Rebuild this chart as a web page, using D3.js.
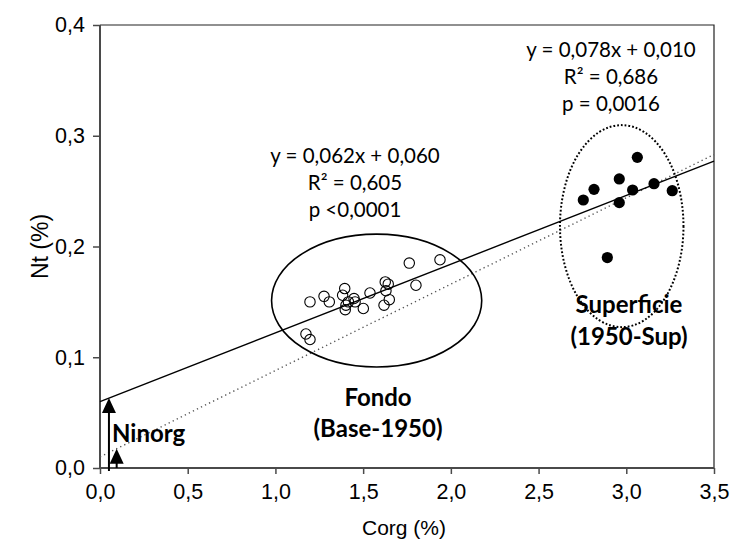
<!DOCTYPE html>
<html>
<head>
<meta charset="utf-8">
<script src="https://cdn.jsdelivr.net/npm/d3@7"></script>
<style>
  html, body { margin: 0; padding: 0; background: #fff; }
  svg { display: block; }
  .tick text { font-family: "Liberation Sans", Arial, sans-serif; font-size: 21.5px; fill: #000; }
  .eq { font-family: Lato, "Open Sans", sans-serif; font-size: 20.5px; fill: #000; }
  .grp { font-family: Lato, "Open Sans", sans-serif; font-size: 24px; font-weight: bold; fill: #000; }
  .title { font-family: "Liberation Sans", Arial, sans-serif; font-size: 21px; fill: #000; }
  .title.ytitle { font-size: 23px; }
</style>
</head>
<body>
<svg id="chart" width="733" height="551"></svg>
<script>
// Bottom layer samples (Fondo, Base-1950): Corg %, Nt %
const fondoCorg = [1.197, 1.277, 1.307, 1.395, 1.383, 1.402, 1.398, 1.448, 1.454, 1.416,
                   1.501, 1.539, 1.626, 1.643, 1.630, 1.649, 1.619, 1.763, 1.801, 1.938,
                   1.174, 1.197];
const fondoNt   = [0.150, 0.155, 0.150, 0.162, 0.156, 0.147, 0.143, 0.153, 0.150, 0.150,
                   0.144, 0.158, 0.168, 0.166, 0.160, 0.152, 0.147, 0.185, 0.165, 0.188,
                   0.121, 0.116];

// Surface layer samples (Superficie, 1950-Sup)
const supCorg = [3.063, 2.960, 2.816, 2.755, 3.036, 3.158, 3.262, 2.960, 2.892];
const supNt   = [0.2805, 0.261, 0.2516, 0.242, 0.251, 0.2567, 0.2504, 0.2396, 0.190];

// Regression fits (slope, intercept)
const fitFondo = [0.062, 0.060];
const fitSup   = [0.078, 0.010];

// Axis ticks
const xTicks = [0, 0.5, 1, 1.5, 2, 2.5, 3, 3.5];
const yTicks = [0, 0.1, 0.2, 0.3, 0.4];

// Group outlines: [centre Corg, centre Nt, radius Corg, radius Nt]
const fondoOutline = [1.577, 0.1512, 0.599, 0.060];
const supOutline   = [2.974, 0.2184, 0.352, 0.0912];

// Ninorg arrows drawn at these Corg positions
const arrowCorg = [0.051, 0.095];

const fmt = d => d.toFixed(1).replace('.', ',');

const svg = d3.select('#chart');
const x = d3.scaleLinear().domain([0, 3.5]).range([100, 714]);
const y = d3.scaleLinear().domain([0, 0.4]).range([468, 25]);

// frame (top and right)
svg.append('path')
  .attr('d', `M${x(0)},${y(0.4)}H${x(3.5)}V${y(0)}`)
  .attr('fill', 'none').attr('stroke', '#222').attr('stroke-width', 1.2);

// axes
const xAxis = svg.append('g').attr('transform', `translate(0,${y(0)})`)
  .call(d3.axisBottom(x).tickValues(xTicks).tickFormat(fmt).tickSize(6).tickPadding(10));
const yAxis = svg.append('g').attr('transform', `translate(${x(0)},0)`)
  .call(d3.axisLeft(y).tickValues(yTicks).tickFormat(fmt).tickSize(7).tickPadding(8));
[xAxis, yAxis].forEach(g => {
  g.select('.domain').attr('stroke', '#4a4a4a').attr('stroke-width', 2);
  g.selectAll('.tick line').attr('stroke', '#4a4a4a').attr('stroke-width', 1.5);
});
xAxis.select('.domain').attr('d', `M${x(0)},0H${x(3.5)}`);
yAxis.select('.domain').attr('d', `M0,${y(0.4)}V${y(0)}`);

// axis titles
svg.append('text').attr('class', 'title')
  .attr('x', (x(0) + x(3.5)) / 2 - 3).attr('y', 535).attr('text-anchor', 'middle')
  .text('Corg (%)');
svg.append('text').attr('class', 'title ytitle')
  .attr('transform', `translate(48,${(y(0) + y(0.4)) / 2}) rotate(-90)`)
  .attr('text-anchor', 'middle').text('Nt (%)');

// regression lines
const line = fit => d3.line()([[x(0), y(fit[1])], [x(3.5), y(fit[0] * 3.5 + fit[1])]]);
svg.append('path').attr('d', line(fitSup))
  .attr('fill', 'none').attr('stroke', '#555').attr('stroke-width', 1.4)
  .attr('stroke-dasharray', '1.3 3.2');
svg.append('path').attr('d', line(fitFondo))
  .attr('fill', 'none').attr('stroke', '#000').attr('stroke-width', 1.4);

// group outlines
svg.append('ellipse')
  .attr('cx', x(fondoOutline[0])).attr('cy', y(fondoOutline[1]))
  .attr('rx', x(fondoOutline[2]) - x(0)).attr('ry', y(0) - y(fondoOutline[3]))
  .attr('fill', 'none').attr('stroke', '#000').attr('stroke-width', 1.6);
svg.append('ellipse')
  .attr('cx', x(supOutline[0])).attr('cy', y(supOutline[1]))
  .attr('rx', x(supOutline[2]) - x(0)).attr('ry', y(0) - y(supOutline[3]))
  .attr('fill', 'none').attr('stroke', '#000').attr('stroke-width', 2)
  .attr('stroke-dasharray', '1.8 2');

// points
svg.append('g').selectAll('circle').data(d3.zip(fondoCorg, fondoNt)).join('circle')
  .attr('cx', d => x(d[0])).attr('cy', d => y(d[1])).attr('r', 5.2)
  .attr('fill', 'none').attr('stroke', '#000').attr('stroke-width', 1.1);
svg.append('g').selectAll('circle').data(d3.zip(supCorg, supNt)).join('circle')
  .attr('cx', d => x(d[0])).attr('cy', d => y(d[1])).attr('r', 5.6)
  .attr('fill', '#000');

// labels
const eqLines = (lines, cx, y0) => lines.forEach((t, i) =>
  svg.append('text').attr('class', 'eq').attr('x', cx).attr('y', y0 + i * 27)
    .attr('text-anchor', 'middle').text(t));
eqLines(['y = 0,078x + 0,010', 'R² = 0,686', 'p = 0,0016'], 611, 57);
eqLines(['y = 0,062x + 0,060', 'R² = 0,605', 'p <0,0001'], 355, 163);

const grp = (t, cx, yy, anchor) => svg.append('text').attr('class', 'grp')
  .attr('x', cx).attr('y', yy).attr('text-anchor', anchor || 'middle').text(t);
grp('Fondo', 378, 406);
grp('(Base-1950)', 378, 437);
grp('Superficie', 629, 313);
grp('(1950-Sup)', 629, 345);
grp('Ninorg', 112, 442, 'start');

// Ninorg arrows: from the axis up to each fitted line
const arrowTargets = [fitFondo, fitSup];
arrowCorg.forEach((c, i) => {
  const fit = arrowTargets[i];
  const tipY = y(fit[0] * c + fit[1]);
  const ax = x(c);
  const baseY = i === 0 ? y(0) + 3 : y(0);
  svg.append('line').attr('x1', ax).attr('x2', ax).attr('y1', baseY).attr('y2', tipY + 12)
    .attr('stroke', '#000').attr('stroke-width', 2);
  svg.append('path')
    .attr('d', `M${ax},${tipY}L${ax - 7},${tipY + 15}L${ax + 7},${tipY + 15}Z`)
    .attr('fill', '#000');
});
</script>
</body>
</html>
